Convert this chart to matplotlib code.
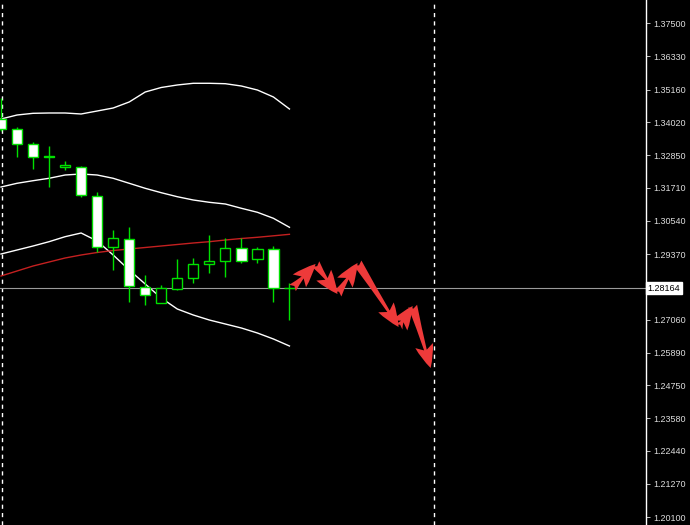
import matplotlib
matplotlib.use("Agg")
import matplotlib.pyplot as plt
from matplotlib.patches import FancyArrowPatch

# ---------------- data ----------------
opens  = [1.34127, 1.33775, 1.33246, 1.32806, 1.32436, 1.32436, 1.31414, 1.29617, 1.29899, 1.28207,
          1.27643, 1.28137, 1.28524, 1.29018, 1.29123, 1.29581, 1.29194, 1.29546, 1.28172]
highs  = [1.34867, 1.33846, 1.33317, 1.33176, 1.32647, 1.32471, 1.31555, 1.30216, 1.30322, 1.28630,
          1.28278, 1.29194, 1.29229, 1.30040, 1.29934, 1.29934, 1.29617, 1.29652, 1.28348]
lows   = [1.33705, 1.32788, 1.32365, 1.31731, 1.32330, 1.31379, 1.29441, 1.28806, 1.27679, 1.27573,
          1.27643, 1.28101, 1.28348, 1.28700, 1.28560, 1.29053, 1.29053, 1.27679, 1.27044]
closes = [1.33775, 1.33246, 1.32788, 1.32771, 1.32506, 1.31449, 1.29617, 1.29934, 1.28242, 1.27925,
          1.28172, 1.28524, 1.29018, 1.29123, 1.29581, 1.29123, 1.29546, 1.28172, 1.28164]

bb_upper = [1.34127, 1.34268, 1.34328, 1.34339, 1.34339, 1.34304, 1.34409, 1.34515, 1.34727, 1.35079,
            1.35238, 1.35326, 1.35386, 1.35386, 1.35371, 1.35290, 1.35149, 1.34903, 1.34480]
bb_middle = [1.31731, 1.31862, 1.31953, 1.32038, 1.32154, 1.32189, 1.32154, 1.32038, 1.31862, 1.31685,
             1.31530, 1.31389, 1.31273, 1.31192, 1.31132, 1.30981, 1.30840, 1.30628, 1.30311]
bb_lower = [1.29370, 1.29511, 1.29652, 1.29804, 1.29980, 1.30110, 1.29828, 1.29335, 1.28806, 1.28313,
            1.27820, 1.27432, 1.27220, 1.27044, 1.26903, 1.26762, 1.26586, 1.26375, 1.26128]
ma_red = [1.28595, 1.28771, 1.28947, 1.29088, 1.29229, 1.29335, 1.29423, 1.29493, 1.29546, 1.29599,
          1.29652, 1.29705, 1.29758, 1.29804, 1.29863, 1.29916, 1.29959, 1.30011, 1.30064]

# projected zig-zag path (bar index, price)
proj_x = [18.19, 19.63, 21.0, 22.25, 24.81, 25.69, 26.81]
proj_y = [1.28172, 1.29018, 1.27960, 1.29053, 1.26798, 1.27538, 1.25353]

current_price = 1.28164
separators = [0.05, 27.0]
tick_values = [1.37500, 1.36330, 1.35160, 1.34020, 1.32850, 1.31710, 1.30540, 1.29370,
               1.27060, 1.25890, 1.24750, 1.23580, 1.22440, 1.21270, 1.20100]
tick_labels = ["1.37500", "1.36330", "1.35160", "1.34020", "1.32850", "1.31710", "1.30540", "1.29370",
               "1.27060", "1.25890", "1.24750", "1.23580", "1.22440", "1.21270", "1.20100"]

# ---------------- figure ----------------
W, H = 690, 525
fig = plt.figure(figsize=(W / 100, H / 100), dpi=100, facecolor="black")
ax = fig.add_axes([0, 0, 646 / W, 1], facecolor="black")

x = list(range(len(opens)))
green = "#00e000"

# separators
for s in separators:
    ax.axvline(s, color="white", lw=1.0, ls=(0, (3, 3)), zorder=1)

# current price line
ax.axhline(current_price, color="#9a9a9a", lw=0.8, zorder=1)

# indicators
ax.plot(x, bb_upper, color="white", lw=1.0, zorder=2)
ax.plot(x, bb_middle, color="white", lw=1.0, zorder=2)
ax.plot(x, bb_lower, color="white", lw=1.0, zorder=2)
ax.plot(x, ma_red, color="#c42020", lw=1.0, zorder=2)

# candles
ax.vlines(x, lows, highs, color=green, lw=1.0, zorder=3)
bottoms = [min(o, c) for o, c in zip(opens, closes)]
heights = [abs(c - o) for o, c in zip(opens, closes)]
faces = ["white" if c < o else "black" for o, c in zip(opens, closes)]
ax.bar(x, heights, bottom=bottoms, width=0.64, color=faces, edgecolor=green,
       linewidth=1.0, zorder=4)

# projection arrows
for i in range(len(proj_x) - 1):
    arr = FancyArrowPatch((proj_x[i], proj_y[i]), (proj_x[i + 1], proj_y[i + 1]),
                          arrowstyle="fancy,head_length=1.4,head_width=1.1,tail_width=0.55",
                          mutation_scale=12, color="#ee3a3a", lw=0,
                          shrinkA=0, shrinkB=0, zorder=5)
    ax.add_patch(arr)

ax.set_xlim(-0.0625, 40.25)
ax.set_ylim(1.19820, 1.38321)

for side in ["top", "left", "bottom"]:
    ax.spines[side].set_visible(False)
ax.spines["right"].set_color("white")
ax.spines["right"].set_linewidth(1.0)

ax.set_xticks([])
ax.yaxis.tick_right()
ax.set_yticks(tick_values)
ax.set_yticklabels(tick_labels)
ax.tick_params(axis="y", colors="#dcdcdc", length=3, width=0.6, pad=2,
               labelsize=6.5, direction="out")
for lab in ax.get_yticklabels():
    lab.set_fontfamily("Liberation Sans")

ax.text(1.0025, current_price, "1.28164", transform=ax.get_yaxis_transform(),
        ha="left", va="center", fontsize=6.5, family="Liberation Sans", color="black",
        bbox=dict(boxstyle="square,pad=0.15", fc="white", ec="white"), clip_on=False)

fig.savefig("out.png", dpi=100, facecolor="black")
